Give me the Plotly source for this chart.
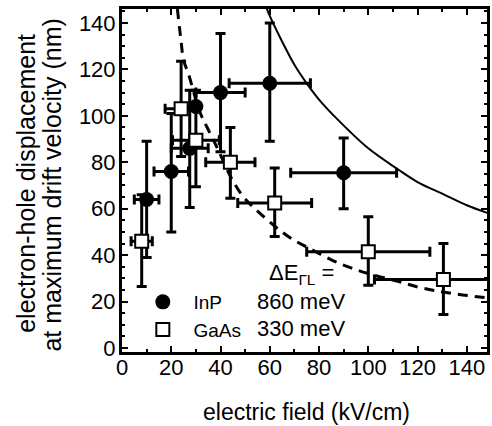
import plotly.graph_objects as go

# ---- data ----
inp_x = [10, 20, 27.5, 30, 40, 60, 90]
inp_y = [64, 76, 86, 104, 110, 114, 75.5]
inp_y_plus = [25, 25, 25, 0, 25.5, 26, 15]
inp_y_minus = [25, 26, 25.5, 0, 25.5, 25, 15.5]
inp_x_err = [5, 7, 7.5, 0, 10, 16.5, 21.5]

gaas_x = [8, 24, 30, 44, 62, 100, 130.5]
gaas_y = [46, 103, 89.5, 80, 62.5, 41.5, 29.5]
gaas_y_plus = [20, 20.5, 21.5, 15, 15, 15, 15.5]
gaas_y_minus = [19.5, 20.5, 20, 15.5, 14.5, 14.5, 15]
gaas_x_err = [4.3, 6.5, 9.5, 10, 15, 25, 28]

solid_x = [58.5, 60, 65, 70, 75, 80, 87, 100, 112, 120, 130, 140, 149]
solid_y = [147, 143, 132, 122, 114, 107, 99, 86, 77, 71.5, 66.5, 61.5, 58]

dash_x = [22.5, 24, 25, 27, 31.5, 35.5, 39, 44, 49, 54, 62, 69, 76, 85, 93, 102, 112, 122, 133, 149]
dash_y = [146, 132, 124, 118, 102, 93, 85.5, 74, 65.5, 60, 52.5, 47, 43, 38, 34.5, 31.5, 28.7, 25.8, 23.7, 21.5]

x_ticks = [0, 20, 40, 60, 80, 100, 120, 140]
y_ticks = [0, 20, 40, 60, 80, 100, 120, 140]

FONT = "Liberation Sans, Arial, Helvetica, sans-serif"

fig = go.Figure()

fig.add_trace(go.Scatter(
    x=solid_x, y=solid_y, mode="lines", line=dict(color="black", width=2, shape="spline"),
    showlegend=False, hoverinfo="skip"))
fig.add_trace(go.Scatter(
    x=dash_x, y=dash_y, mode="lines",
    line=dict(color="black", width=3, dash="10px,7px", shape="spline"),
    showlegend=False, hoverinfo="skip"))

fig.add_trace(go.Scatter(
    x=inp_x, y=inp_y, mode="markers", name="  InP",
    marker=dict(symbol="circle", size=15, color="black"),
    error_y=dict(type="data", symmetric=False, array=inp_y_plus, arrayminus=inp_y_minus,
                 color="black", thickness=3, width=5),
    error_x=dict(type="data", array=inp_x_err, color="black", thickness=3, width=5)))

fig.add_trace(go.Scatter(
    x=gaas_x, y=gaas_y, mode="markers", name="  GaAs",
    marker=dict(symbol="square", size=13, color="white", line=dict(color="black", width=2)),
    error_y=dict(type="data", symmetric=False, array=gaas_y_plus, arrayminus=gaas_y_minus,
                 color="black", thickness=3, width=5),
    error_x=dict(type="data", array=gaas_x_err, color="black", thickness=3, width=5)))

W, H = 492, 426
ml, mr, mt, mb = 122, 2, 9, 74
pw, ph = W - ml - mr, H - mt - mb

def px(xpix):
    return (xpix - ml) / pw

def py(ypix):
    return (H - mb - ypix) / ph

axis_common = dict(
    showline=True, linecolor="black", linewidth=3, mirror="allticks",
    ticks="inside", ticklen=6, tickwidth=2, tickcolor="black",
    showgrid=False, zeroline=False,
    tickfont=dict(family=FONT, size=22, color="black"),
)

fig.update_xaxes(range=[0, 148.2], tickvals=x_ticks, ticktext=[str(v) for v in x_ticks],
                 minor=dict(dtick=10, ticklen=3, tickwidth=2, ticks="inside", tickcolor="black"),
                 ticklabelstandoff=-6,
                 **axis_common)
fig.update_yaxes(range=[-1.7, 146], tickvals=y_ticks, ticktext=[str(v) for v in y_ticks],
                 minor=dict(dtick=5, ticklen=3, tickwidth=2, ticks="inside", tickcolor="black"),
                 ticklabelstandoff=-1,
                 **axis_common)

annos = [
    dict(text="electric field (kV/cm)", x=px(308), y=py(412), xanchor="center", yanchor="middle",
         font=dict(size=23)),
    dict(text="electron-hole displacement", x=px(25), y=py(183), xanchor="center", yanchor="middle",
         textangle=-90, font=dict(size=25)),
    dict(text="at maximum drift velocity (nm)", x=px(51), y=py(185), xanchor="center", yanchor="middle",
         textangle=-90, font=dict(size=25)),
    dict(text="ΔE<sub>ΓL</sub> =", x=px(268), y=py(274), xanchor="left", yanchor="middle",
         font=dict(size=22)),
    dict(text="860 meV", x=px(256), y=py(301), xanchor="left", yanchor="middle", font=dict(size=22)),
    dict(text="330 meV", x=px(256), y=py(328), xanchor="left", yanchor="middle", font=dict(size=22)),
]
for a in annos:
    a.update(xref="paper", yref="paper", showarrow=False)
    a["font"].update(family=FONT, color="black")
fig.update_layout(annotations=annos)

fig.update_layout(
    width=W, height=H,
    margin=dict(l=ml, r=mr, t=mt, b=mb),
    paper_bgcolor="white", plot_bgcolor="white",
    font=dict(family=FONT, color="black"),
    showlegend=True,
    legend=dict(x=px(143), y=py(283), xanchor="left", yanchor="top",
                bgcolor="rgba(0,0,0,0)", borderwidth=0,
                font=dict(family=FONT, size=19, color="black"),
                itemsizing="trace", tracegroupgap=0),
)

fig.write_html("out.html")
